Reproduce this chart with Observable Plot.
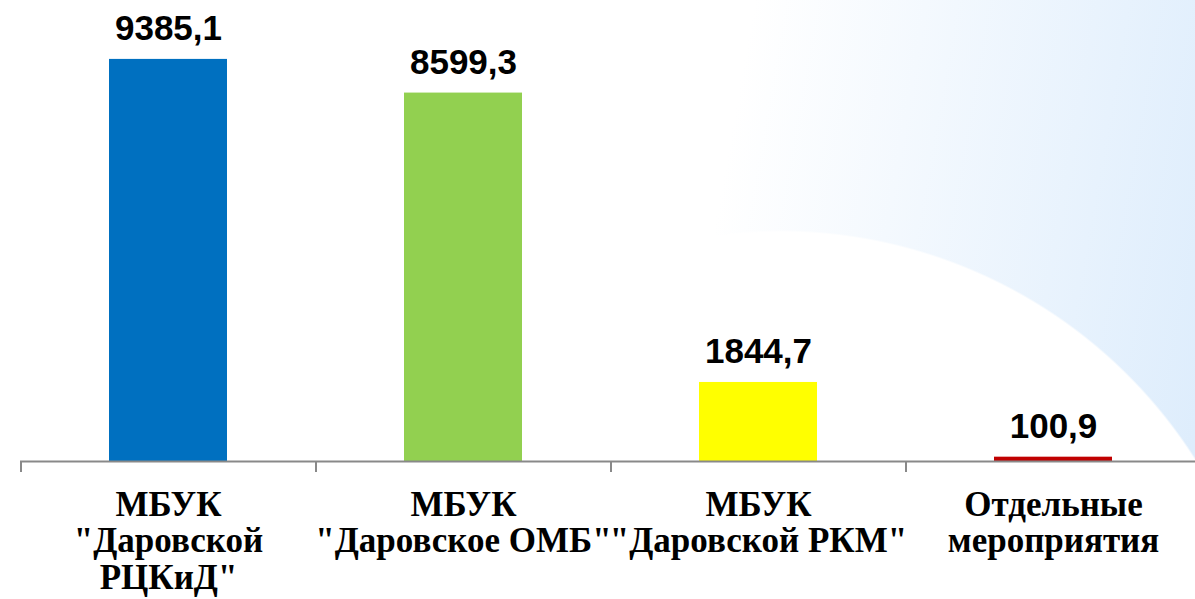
<!DOCTYPE html>
<html>
<head>
<meta charset="utf-8">
<script src="https://cdn.jsdelivr.net/npm/d3@7"></script>
<script src="https://cdn.jsdelivr.net/npm/@observablehq/plot@0.6"></script>
<style>
  html, body { margin: 0; padding: 0; overflow: hidden; background: white; }
  #chart {
    width: 1195px; height: 599px; position: relative;
    background:
      radial-gradient(circle 493px at 780px 723px, #ffffff 99.6%, rgba(255,255,255,0) 100%),
      linear-gradient(100deg, #ffffff 58%, #dcecfc 100%);
  }
</style>
</head>
<body>
<div id="chart"></div>
<script>
const categories = [
  "МБУК\n\"Даровской\nРЦКиД\"",
  "МБУК\n\"Даровское ОМБ\"",
  "МБУК\n\"Даровской РКМ\"",
  "Отдельные\nмероприятия"
];
const values = [9385.1, 8599.3, 1844.7, 100.9];
const valueLabels = ["9385,1", "8599,3", "1844,7", "100,9"];
const colors = ["#0070C0", "#92D050", "#FFFF00", "#C00000"];

const data = categories.map((c, i) => ({cat: c, value: values[i], label: valueLabels[i], color: colors[i]}));

const W = 1195, H = 599;
const xRange = [20, 1200];
const step = (xRange[1] - xRange[0]) / categories.length;

const chart = Plot.plot({
  width: W,
  height: H,
  marginTop: 0,
  marginLeft: 20,
  marginRight: 0,
  marginBottom: 138,
  style: {background: "transparent", overflow: "visible"},
  x: {domain: categories, range: xRange, paddingInner: 0.6, paddingOuter: 0.3, label: null},
  y: {domain: [0, 10760], axis: null},
  marks: [
    Plot.barY(data, {x: "cat", y: "value", fill: "color"}),
    Plot.ruleY([0], {stroke: "#898989", strokeWidth: 2}),
    Plot.axisX({
      tickSize: 11, tickFormat: () => "", dx: -step / 2,
      stroke: "#898989", strokeWidth: 2, label: null
    }),
    Plot.axisX({
      tickSize: 0, tickPadding: 28, label: null,
      fontFamily: "'Liberation Serif', 'Times New Roman', serif",
      fontWeight: "bold", fontSize: 35, lineHeight: 1.05, fill: "#000"
    }),
    Plot.text(data, {
      x: "cat", y: "value", text: "label", lineAnchor: "bottom", dy: -19,
      fontFamily: "'Liberation Sans', Arial, sans-serif",
      fontWeight: "bold", fontSize: 35, fill: "#000"
    })
  ]
});
document.getElementById("chart").appendChild(chart);
</script>
</body>
</html>
